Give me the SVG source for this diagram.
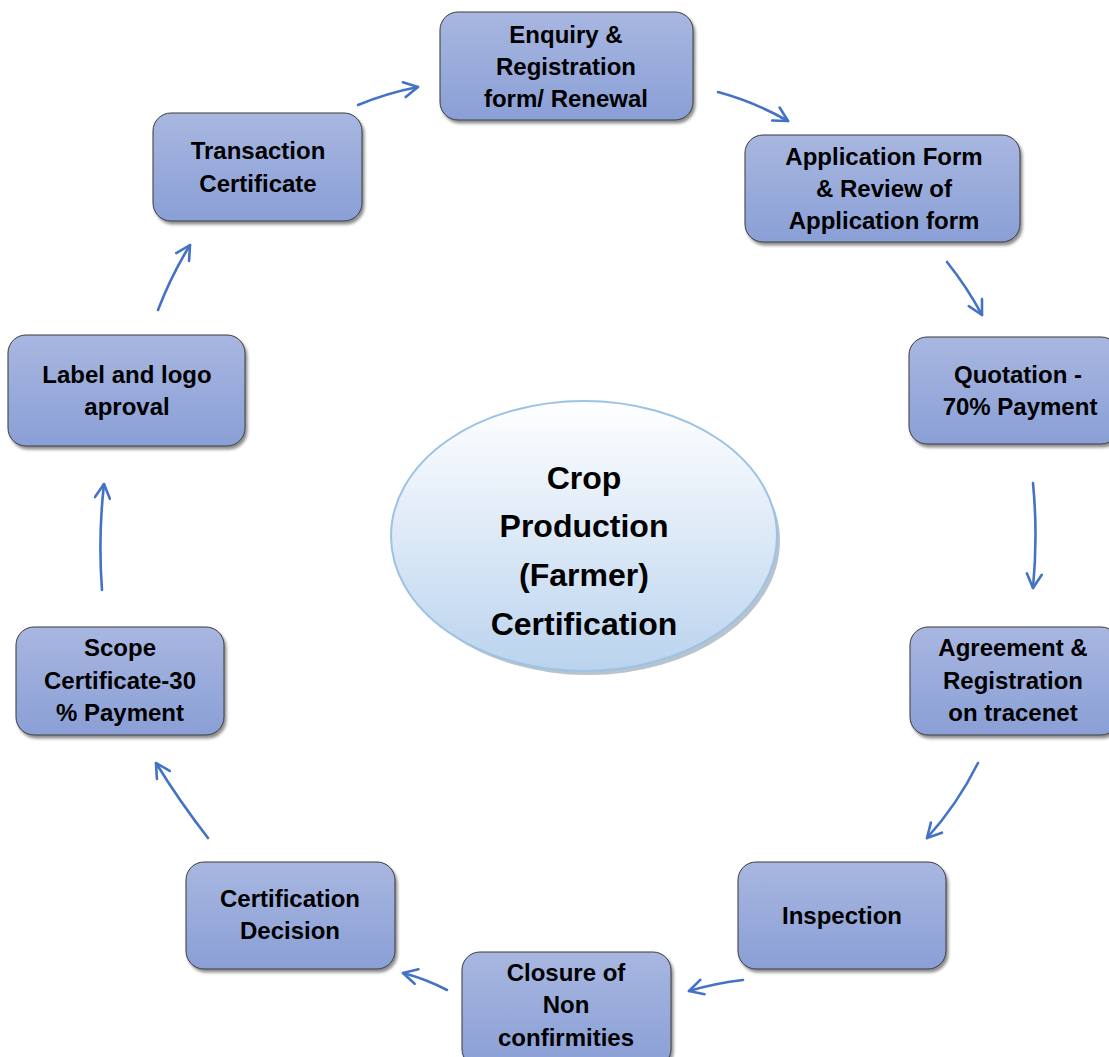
<svg xmlns="http://www.w3.org/2000/svg" width="1109" height="1057" viewBox="0 0 1109 1057">
<defs>
<linearGradient id="ng" x1="0" y1="0" x2="0" y2="1">
<stop offset="0" stop-color="#A8B7E0"/>
<stop offset="1" stop-color="#8A9FD6"/>
</linearGradient>
<linearGradient id="eg" x1="0" y1="0" x2="0" y2="1">
<stop offset="0" stop-color="#FFFFFF"/>
<stop offset="1" stop-color="#BAD3EE"/>
</linearGradient>
<filter id="sh" x="-10%" y="-10%" width="130%" height="130%">
<feDropShadow dx="2" dy="3" stdDeviation="1.5" flood-color="#000" flood-opacity="0.45"/>
</filter>
<marker id="ah" viewBox="0 0 18 18" refX="16" refY="9" markerWidth="18" markerHeight="18" markerUnits="userSpaceOnUse" orient="auto">
<path d="M2,1.5 L16,9 L2,16.5" fill="none" stroke="#4472C4" stroke-width="2.6" stroke-linecap="round" stroke-linejoin="round"/>
</marker>
</defs>
<style>
.n rect{fill:url(#ng);stroke:#3a3a3a;stroke-width:1;filter:url(#sh);}
.n text{font-family:"Liberation Sans",Arial,sans-serif;font-weight:bold;font-size:24px;fill:#000;text-anchor:middle;}
.c path{fill:none;stroke:#4472C4;stroke-width:2.6;marker-end:url(#ah);stroke-linecap:round;}
.center text{font-family:"Liberation Sans",Arial,sans-serif;font-weight:bold;font-size:32px;fill:#000;text-anchor:middle;}
</style>
<rect width="1109" height="1057" fill="#fff"/>

<g id="center" class="center">
<ellipse cx="588" cy="541" rx="192" ry="134" fill="#9AA9B8" opacity="0.7"/>
<ellipse cx="584" cy="536" rx="193" ry="135" fill="url(#eg)" stroke="#9CC2E4" stroke-width="2"/>
<text x="584" y="489">Crop</text>
<text x="584" y="537">Production</text>
<text x="584" y="586">(Farmer)</text>
<text x="584" y="635">Certification</text>
</g>

<g id="n1" class="n">
<rect x="440" y="12" width="253" height="108" rx="18"/>
<text x="566" y="43">Enquiry &amp;</text>
<text x="566" y="75">Registration</text>
<text x="566" y="107">form/ Renewal</text>
</g>
<g id="n2" class="n">
<rect x="745" y="135" width="275" height="107" rx="18"/>
<text x="884" y="165">Application Form</text>
<text x="884" y="197">&amp; Review of</text>
<text x="884" y="229">Application form</text>
</g>
<g id="n3" class="n">
<rect x="909" y="337" width="210" height="107" rx="18"/>
<text x="1018" y="383">Quotation -</text>
<text x="1020" y="415">70% Payment</text>
</g>
<g id="n4" class="n">
<rect x="910" y="627" width="209" height="108" rx="18"/>
<text x="1013" y="656">Agreement &amp;</text>
<text x="1013" y="689">Registration</text>
<text x="1013" y="721">on tracenet</text>
</g>
<g id="n5" class="n">
<rect x="738" y="862" width="208" height="107" rx="18"/>
<text x="842" y="924">Inspection</text>
</g>
<g id="n6" class="n">
<rect x="462" y="952" width="209" height="115" rx="18"/>
<text x="566" y="981">Closure of</text>
<text x="566" y="1013">Non</text>
<text x="566" y="1046">confirmities</text>
</g>
<g id="n7" class="n">
<rect x="186" y="862" width="209" height="107" rx="18"/>
<text x="290" y="907">Certification</text>
<text x="290" y="939">Decision</text>
</g>
<g id="n8" class="n">
<rect x="16" y="627" width="208" height="108" rx="18"/>
<text x="120" y="656">Scope</text>
<text x="120" y="689">Certificate-30</text>
<text x="120" y="721">% Payment</text>
</g>
<g id="n9" class="n">
<rect x="8" y="335" width="237" height="111" rx="18"/>
<text x="127" y="383">Label and logo</text>
<text x="127" y="415">aproval</text>
</g>
<g id="n10" class="n">
<rect x="153" y="113" width="209" height="108" rx="18"/>
<text x="258" y="159">Transaction</text>
<text x="258" y="192">Certificate</text>
</g>

<g id="connectors" class="c">
<path d="M358,105 Q387,93 418,87"/>
<path d="M718,92 Q755,102 788,121"/>
<path d="M947,262 Q967,287 982,315"/>
<path d="M1033,483 Q1038,535 1033,588"/>
<path d="M978,763 Q957,805 927,838"/>
<path d="M743,980 Q716,983 689,991"/>
<path d="M447,990 Q426,979 403,973"/>
<path d="M208,838 Q180,802 156,763"/>
<path d="M102,590 Q98,537 104,484"/>
<path d="M158,310 Q171,276 190,245"/>
</g>
</svg>
